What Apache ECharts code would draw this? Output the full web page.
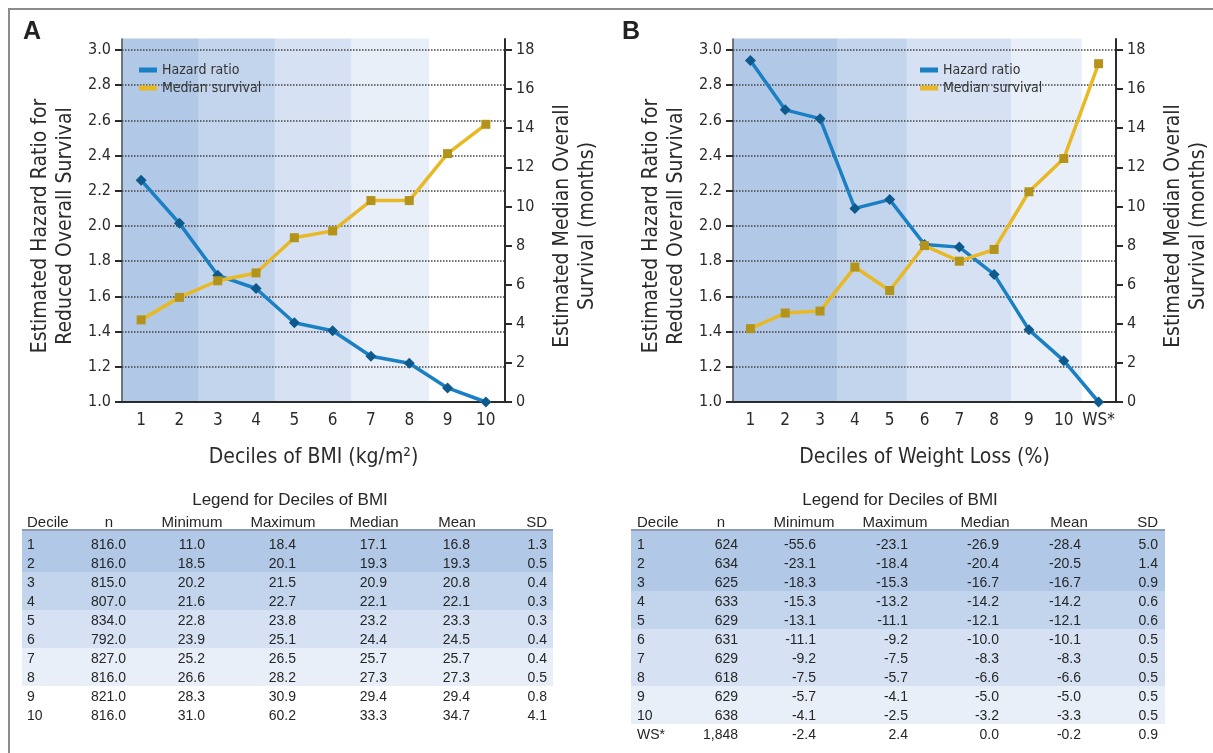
<!DOCTYPE html>
<html>
<head>
<meta charset="utf-8">
<title>Deciles of BMI and weight loss</title>
<script src="https://cdn.jsdelivr.net/npm/echarts@6.0.0/dist/echarts.min.js"></script>
<style>
  body { margin: 0; background: #fff; }
  #wrap { position: relative; width: 1213px; height: 753px; overflow: hidden; background: #fff; }
  #frame { position: absolute; left: 8px; top: 8px; width: 1300px; height: 800px;
           border-top: 2px solid #8c8c8c; border-left: 2px solid #8c8c8c; }
  #chart { position: absolute; left: 0; top: 0; width: 1213px; height: 753px; }
  .tbl { position: absolute; left: 0; top: 0; width: 1213px; height: 753px;
         font-family: 'Liberation Sans', Arial, sans-serif; color: #262626; font-size: 14px; }
  .tbl div { position: absolute; white-space: nowrap; }
</style>
</head>
<body>
<div id="wrap">
  <div id="frame"></div>
  <div id="chart"></div>
  <div id="tables" class="tbl"></div>
</div>
<script>
// ---- chart data ----
const bmiDeciles = ['1', '2', '3', '4', '5', '6', '7', '8', '9', '10']
const bmiHazard = [2.26, 2.015, 1.72, 1.645, 1.45, 1.405, 1.26, 1.22, 1.08, 1.0]
const bmiMedian = [4.2, 5.35, 6.2, 6.6, 8.4, 8.75, 10.3, 10.3, 12.7, 14.2]
const bmiBandLevel = [0, 0, 1, 1, 2, 2, 3, 3, 4, 4]

const wlDeciles = ['1', '2', '3', '4', '5', '6', '7', '8', '9', '10', 'WS*']
const wlHazard = [2.94, 2.66, 2.61, 2.10, 2.15, 1.895, 1.88, 1.725, 1.41, 1.235, 1.0]
const wlMedian = [3.75, 4.55, 4.65, 6.9, 5.7, 8.0, 7.2, 7.8, 10.75, 12.45, 17.3]
const wlBandLevel = [0, 0, 0, 1, 1, 2, 2, 2, 3, 3, 4]

const hazardRange = [1.0, 3.0, 0.2] // min, max, step
const medianRange = [0, 18, 2]

// ---- legend tables ----
const tableHeader = ['Decile', 'n', 'Minimum', 'Maximum', 'Median', 'Mean', 'SD']

const bmiTableN = ['816.0', '816.0', '815.0', '807.0', '834.0', '792.0', '827.0', '816.0', '821.0', '816.0']
const bmiTableMin = ['11.0', '18.5', '20.2', '21.6', '22.8', '23.9', '25.2', '26.6', '28.3', '31.0']
const bmiTableMax = ['18.4', '20.1', '21.5', '22.7', '23.8', '25.1', '26.5', '28.2', '30.9', '60.2']
const bmiTableMedian = ['17.1', '19.3', '20.9', '22.1', '23.2', '24.4', '25.7', '27.3', '29.4', '33.3']
const bmiTableMean = ['16.8', '19.3', '20.8', '22.1', '23.3', '24.5', '25.7', '27.3', '29.4', '34.7']
const bmiTableSD = ['1.3', '0.5', '0.4', '0.3', '0.3', '0.4', '0.4', '0.5', '0.8', '4.1']

const wlTableN = ['624', '634', '625', '633', '629', '631', '629', '618', '629', '638', '1,848']
const wlTableMin = ['-55.6', '-23.1', '-18.3', '-15.3', '-13.1', '-11.1', '-9.2', '-7.5', '-5.7', '-4.1', '-2.4']
const wlTableMax = ['-23.1', '-18.4', '-15.3', '-13.2', '-11.1', '-9.2', '-7.5', '-5.7', '-4.1', '-2.5', '2.4']
const wlTableMedian = ['-26.9', '-20.4', '-16.7', '-14.2', '-12.1', '-10.0', '-8.3', '-6.6', '-5.0', '-3.2', '0.0']
const wlTableMean = ['-28.4', '-20.5', '-16.7', '-14.2', '-12.1', '-10.1', '-8.3', '-6.6', '-5.0', '-3.3', '-0.2']
const wlTableSD = ['5.0', '1.4', '0.9', '0.6', '0.6', '0.5', '0.5', '0.5', '0.5', '0.5', '0.9']

// band shades, darkest to none
const bandColors = ['#b1c8e7', '#c3d5ed', '#d6e2f3', '#e8eff9', 'rgba(255,255,255,0)']
const hazardColor = '#1b80c3'
const hazardMarker = '#0f5a8d'
const medianColor = '#e8b925'
const medianMarker = '#b39319'
const axisColor = '#2b2b2b'
const chartFont = "'DejaVu Sans Condensed', 'Liberation Sans', sans-serif"

const chart = echarts.init(document.getElementById('chart'))

const grids = []
const xAxes = []
const yAxes = []
const series = []

// contiguous runs of one band level -> [startIndex, endIndex, level]
function bandRuns(levels) {
  const runs = []
  levels.forEach((lv, i) => {
    const last = runs[runs.length - 1]
    if (last && last[2] === lv) last[1] = i + 1
    else runs.push([i, i + 1, lv])
  })
  return runs
}

// one panel = an outer grid (shading + axis lines, reaches above 3.0)
// and an inner grid (data, ticks, labels, gridlines)
function addPanel(p) {
  const g = grids.length
  const y = yAxes.length
  grids.push({ left: p.left, right: p.right, top: 39, bottom: 351 })
  grids.push({ left: p.left, right: p.right, top: 50, bottom: 351 })

  // outer x is a plain 0..N value axis so band edges fall on category boundaries
  xAxes.push({ gridIndex: g, type: 'value', min: 0, max: p.cats.length, show: false })
  xAxes.push({
    gridIndex: g + 1, type: 'category', data: p.cats, boundaryGap: true, z: 3,
    axisLine: { lineStyle: { color: axisColor, width: 2 } },
    axisTick: { length: 6, lineStyle: { color: axisColor, width: 2 } },
    axisLabel: { interval: 0, fontSize: 17, color: axisColor, margin: 10, fontFamily: chartFont },
    splitLine: { show: false },
    name: p.xName, nameLocation: 'middle', nameGap: 45,
    nameTextStyle: { fontSize: 21, color: axisColor, fontFamily: chartFont }
  })

  const bare = { axisTick: { show: false }, axisLabel: { show: false }, splitLine: { show: false } }
  yAxes.push(Object.assign({ gridIndex: g, type: 'value', min: 0, max: 1, position: 'left', z: 3,
    axisLine: { show: true, lineStyle: { color: '#555', width: 1.5 } } }, bare))
  yAxes.push(Object.assign({ gridIndex: g, type: 'value', min: 0, max: 1, position: 'right', z: 3,
    axisLine: { show: true, lineStyle: { color: axisColor, width: 2 } } }, bare))

  yAxes.push({
    gridIndex: g + 1, type: 'value', position: 'left', z: 3,
    min: hazardRange[0], max: hazardRange[1], interval: hazardRange[2],
    axisLine: { show: false },
    axisTick: { show: true, length: 7, lineStyle: { color: axisColor, width: 2 } },
    axisLabel: { fontSize: 16, color: axisColor, margin: 11, fontFamily: chartFont,
      formatter: v => v.toFixed(1) },
    splitLine: { show: true, lineStyle: { color: '#444', type: 'dotted', width: 1.5 } },
    name: 'Estimated Hazard Ratio for\nReduced Overall Survival',
    nameLocation: 'middle', nameGap: 44,
    nameTextStyle: { fontSize: 21, lineHeight: 25, color: axisColor, fontFamily: chartFont }
  })
  yAxes.push({
    gridIndex: g + 1, type: 'value', position: 'right', z: 3,
    min: medianRange[0], max: medianRange[1], interval: medianRange[2],
    axisLine: { show: false },
    axisTick: { show: true, length: 7, lineStyle: { color: axisColor, width: 2 } },
    axisLabel: { fontSize: 16, color: axisColor, margin: 11, fontFamily: chartFont },
    splitLine: { show: false },
    name: 'Estimated Median Overall\nSurvival (months)',
    nameLocation: 'middle', nameGap: 45,
    nameTextStyle: { fontSize: 21, lineHeight: 25, color: axisColor, fontFamily: chartFont }
  })

  // shading bands as a mark area on an empty helper series of the outer grid
  series.push({
    type: 'line', xAxisIndex: g, yAxisIndex: y, z: 0, silent: true, data: [],
    markArea: {
      silent: true, z: 0,
      data: bandRuns(p.bands).map(r => [
        { xAxis: r[0], yAxis: 0,
          itemStyle: { color: bandColors[r[2]], borderColor: bandColors[r[2]], borderWidth: 1 } },
        { xAxis: r[1], yAxis: 1 }
      ])
    }
  })
  series.push({
    type: 'line', name: 'Hazard ratio', xAxisIndex: g + 1, yAxisIndex: y + 2, z: 4,
    data: p.hazard, symbol: 'diamond', symbolSize: 11,
    itemStyle: { color: hazardMarker }, lineStyle: { color: hazardColor, width: 3.5 }
  })
  series.push({
    type: 'line', name: 'Median survival', xAxisIndex: g + 1, yAxisIndex: y + 3, z: 5,
    data: p.median, symbol: 'rect', symbolSize: 9,
    itemStyle: { color: medianMarker }, lineStyle: { color: medianColor, width: 3.5 }
  })
}

addPanel({ left: 122, right: 708, cats: bmiDeciles, hazard: bmiHazard, median: bmiMedian,
  bands: bmiBandLevel, xName: 'Deciles of BMI (kg/m²)' })
addPanel({ left: 733, right: 97, cats: wlDeciles, hazard: wlHazard, median: wlMedian,
  bands: wlBandLevel, xName: 'Deciles of Weight Loss (%)' })

function legendAt(left) {
  return {
    orient: 'vertical', left: left, top: 63, padding: 0, icon: 'rect',
    itemWidth: 18, itemHeight: 5, itemGap: 4,
    textStyle: { fontSize: 14, color: '#333', fontFamily: chartFont },
    data: [
      { name: 'Hazard ratio', itemStyle: { color: hazardColor } },
      { name: 'Median survival', itemStyle: { color: medianColor } }
    ]
  }
}

const panelTitle = { fontSize: 25, fontWeight: 'bold', color: '#222', fontFamily: 'Liberation Sans' }

chart.setOption({
  animation: false,
  title: [
    { text: 'A', left: 23, top: 20, padding: 0, textStyle: panelTitle },
    { text: 'B', left: 622, top: 20, padding: 0, textStyle: panelTitle }
  ],
  legend: [legendAt(139), legendAt(920)],
  grid: grids,
  xAxis: xAxes,
  yAxis: yAxes,
  series: series
})

// ---- tables under the charts (plain html) ----
const tablesEl = document.getElementById('tables')

function put(text, x, y, align, extra) {
  const d = document.createElement('div')
  d.textContent = text
  d.style.top = (y - 10) + 'px'
  d.style.lineHeight = '20px'
  if (align === 'left') d.style.left = x + 'px'
  else if (align === 'right') d.style.right = (1213 - x) + 'px'
  else { d.style.left = (x - 150) + 'px'; d.style.width = '300px'; d.style.textAlign = 'center' }
  if (extra) Object.assign(d.style, extra)
  tablesEl.appendChild(d)
}

function drawTable(t) {
  const rowH = 19
  const rowTop = 534
  // row shading
  t.levels.forEach((lv, i) => {
    const d = document.createElement('div')
    const top = i === 0 ? 530 : rowTop + i * rowH
    const bottom = rowTop + (i + 1) * rowH
    d.style.left = t.x0 + 'px'
    d.style.width = (t.x1 - t.x0) + 'px'
    d.style.top = top + 'px'
    d.style.height = (bottom - top) + 'px'
    d.style.background = bandColors[lv]
    tablesEl.appendChild(d)
  })
  const line = document.createElement('div')
  line.style.left = t.x0 + 'px'
  line.style.width = (t.x1 - t.x0) + 'px'
  line.style.top = '529px'
  line.style.height = '2px'
  line.style.background = '#8d9cb3'
  tablesEl.appendChild(line)

  put('Legend for Deciles of BMI', t.titleX, 500, 'center', { fontSize: '17px' })
  tableHeader.forEach((h, c) => {
    if (c === 0) put(h, t.deciX, 522, 'left', { fontSize: '15px' })
    else if (c === tableHeader.length - 1) put(h, t.colRight[c - 1], 522, 'right', { fontSize: '15px' })
    else put(h, t.headX[c - 1], 522, 'center', { fontSize: '15px' })
  })
  t.rows.forEach((name, i) => {
    const y = rowTop + i * rowH + rowH / 2
    put(name, t.deciX, y, 'left')
    t.cols.forEach((col, c) => put(col[i], t.colRight[c], y, 'right'))
  })
}

drawTable({
  x0: 22, x1: 553, titleX: 290, deciX: 27,
  rows: bmiDeciles, levels: bmiBandLevel,
  cols: [bmiTableN, bmiTableMin, bmiTableMax, bmiTableMedian, bmiTableMean, bmiTableSD],
  headX: [109, 192, 283, 374, 457],
  colRight: [126, 205, 296, 387, 470, 547]
})
drawTable({
  x0: 631, x1: 1165, titleX: 900, deciX: 637,
  rows: wlDeciles, levels: wlBandLevel,
  cols: [wlTableN, wlTableMin, wlTableMax, wlTableMedian, wlTableMean, wlTableSD],
  headX: [721, 804, 895, 985, 1069],
  colRight: [738, 816, 908, 999, 1081, 1158]
})
</script>
</body>
</html>
